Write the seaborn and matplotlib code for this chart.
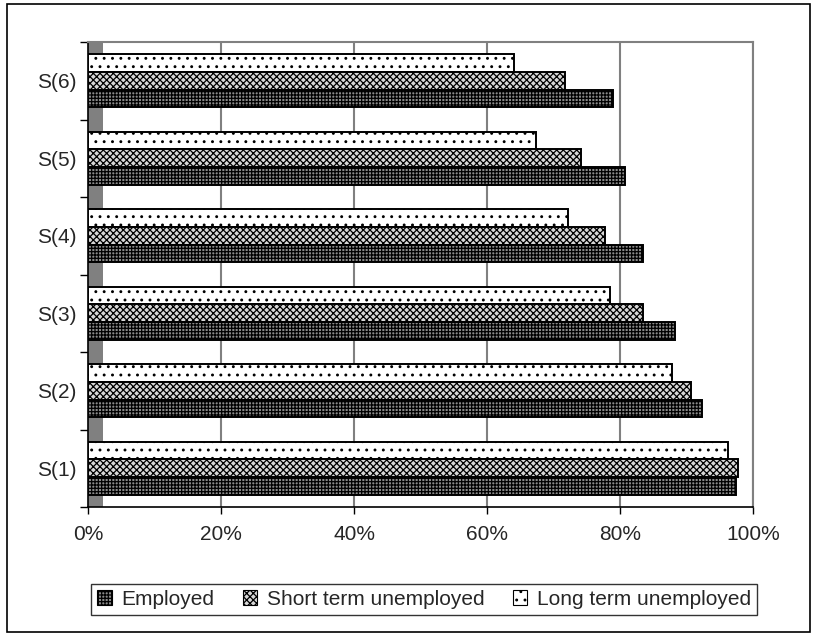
import matplotlib.pyplot as plt
import matplotlib.ticker as mticker
import matplotlib.patches as mpatches
import pandas as pd
import seaborn as sns

# values (share of each group, 0-1)
scenarios = ['S(6)', 'S(5)', 'S(4)', 'S(3)', 'S(2)', 'S(1)']
employed = [0.789, 0.807, 0.834, 0.882, 0.924, 0.975]
short_term = [0.718, 0.741, 0.778, 0.835, 0.907, 0.978]
long_term = [0.640, 0.674, 0.722, 0.785, 0.878, 0.963]

series_names = ['Employed', 'Short term unemployed', 'Long term unemployed']
x_ticks = [0, 0.2, 0.4, 0.6, 0.8, 1.0]

df = pd.DataFrame({'Scenario': scenarios,
                   'Employed': employed,
                   'Short term unemployed': short_term,
                   'Long term unemployed': long_term})
df_melt = df.melt(id_vars='Scenario', var_name='Group', value_name='Share')

sns.set_style('white')
plt.rcParams['font.family'] = ['Liberation Sans', 'DejaVu Sans']
plt.rcParams['hatch.linewidth'] = 0.9
plt.rcParams['hatch.color'] = 'black'

fig = plt.figure(figsize=(8.16, 6.37), dpi=100)
ax = fig.add_axes([88 / 816, 130 / 637, 665 / 816, 465 / 637])

# hue drawn top-to-bottom inside a group: long, short, employed
hue_order = ['Long term unemployed', 'Short term unemployed', 'Employed']
sns.barplot(data=df_melt, y='Scenario', x='Share', hue='Group', order=scenarios,
            hue_order=hue_order, orient='h', width=0.68, ax=ax, legend=False,
            edgecolor='black', linewidth=1.4, zorder=3)

styles = {
    'Long term unemployed': ('white', '..'),
    'Short term unemployed': ('#d8d8d8', 'xxxxx'),
    'Employed': ('#8a8a8a', '+++++'),
}
for name, container in zip(hue_order, ax.containers):
    face, hatch = styles[name]
    for bar in container:
        bar.set_facecolor(face)
        bar.set_hatch(hatch)
        bar.set_edgecolor('black')

# grey side wall of the 3-D look
ax.add_patch(mpatches.Rectangle((0, 0), 0.022, 1, transform=ax.transAxes,
                                facecolor='#808080', edgecolor='none', zorder=1))

ax.set_xlim(0, 1.0)
ax.xaxis.set_major_locator(mticker.FixedLocator(x_ticks))
ax.xaxis.set_major_formatter(mticker.PercentFormatter(1.0, decimals=0))
ax.grid(axis='x', color='#808080', linewidth=1.5, zorder=0)
ax.set_axisbelow(True)

# category boundaries get the tick marks, labels sit in between
ax.set_yticks([i + 0.5 for i in range(-1, len(scenarios))], minor=True)
ax.tick_params(axis='y', which='major', length=0, pad=8, labelsize=15)
ax.tick_params(axis='y', which='minor', length=6, width=1, color='black', direction='out', left=True)
ax.tick_params(axis='x', length=5, width=1, color='black', direction='out', bottom=True,
               pad=8, labelsize=15)
ax.set_xlabel('')
ax.set_ylabel('')

for side in ['left', 'bottom']:
    ax.spines[side].set_color('black')
    ax.spines[side].set_linewidth(1.2)
for side in ['top', 'right']:
    ax.spines[side].set_color('#808080')
    ax.spines[side].set_linewidth(1.5)

# legend in Employed / Short / Long order, box stretched like the original
handles = [mpatches.Patch(facecolor=styles[n][0], hatch=styles[n][1], edgecolor='black',
                          linewidth=0.8, label=n) for n in series_names]
leg = fig.legend(handles=handles, loc='center', mode='expand',
                 bbox_to_anchor=(91 / 816, 20 / 637, 666 / 816, 35 / 637), ncol=3,
                 fontsize=15, frameon=True, fancybox=False, edgecolor='black',
                 handlelength=0.7, handleheight=0.7, handletextpad=0.45, columnspacing=0.6,
                 borderpad=0.3, borderaxespad=0)
leg.get_frame().set_linewidth(1.0)

# outer chart border
fig.patches.append(mpatches.Rectangle((7 / 816, 5 / 637), 803 / 816, 628 / 637,
                                      transform=fig.transFigure, fill=False,
                                      edgecolor='black', linewidth=1.2))

plt.savefig('out.png', dpi=100)
